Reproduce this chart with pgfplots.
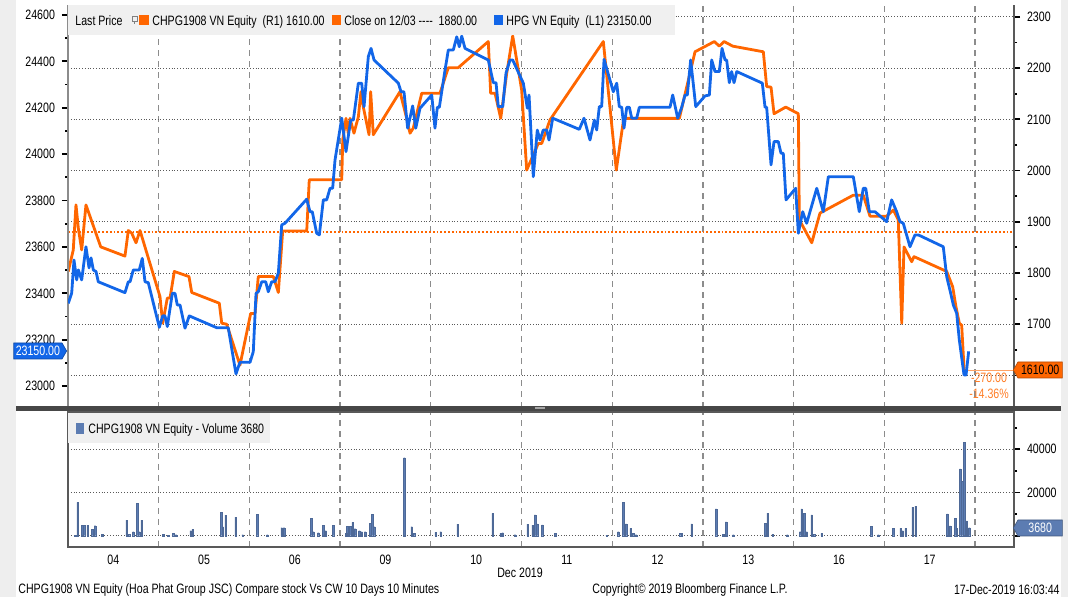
\documentclass[border=0pt]{standalone}
\usepackage{pgfplots}
\pgfplotsset{compat=1.18}
\usepackage{fontspec}
\setmainfont{Liberation Sans}[FakeStretch=0.78]
\usetikzlibrary{shapes.symbols}
\definecolor{orL}{RGB}{255,102,0}
\definecolor{blL}{RGB}{18,102,232}
\definecolor{volC}{RGB}{92,124,178}
\definecolor{legBG}{RGB}{240,240,240}
\definecolor{stripC}{RGB}{238,238,238}
\newcommand{\fs}{\fontsize{6.8}{8}\selectfont}
\begin{document}
\begin{tikzpicture}
\path[use as bounding box] (0,0) rectangle (534pt,298.5pt);
\fill[stripC] (0,0) rectangle (8pt,298.5pt);
\fill[stripC] (530.5pt,0) rectangle (534pt,298.5pt);

% ---------- CHPG1908 (right axis, orange)
\begin{axis}[
 at={(34pt,94.5pt)}, anchor=south west, scale only axis, width=473pt, height=201.5pt,
 xmin=0, xmax=10.43, ymin=1536.4, ymax=2323.4,
 scaled x ticks=false, scaled y ticks=false,
 axis x line*=bottom, axis y line*=right,
 x axis line style={draw=none}, y axis line style={black!65, line width=0.8pt, -},
 xtick={1,...,10}, xticklabels={}, x tick style={draw=none}, xmajorgrids,
 major x grid style={black!45, dash pattern=on 3pt off 2.5pt, line width=0.65pt},
 ytick={1600,1700,...,2300}, yticklabels={,1700,1800,1900,2000,2100,2200,2300},
 minor ytick={1650,1750,...,2250},
 ymajorgrids, major y grid style={black!65, densely dotted, line width=0.5pt},
 tick align=outside, major tick length=3pt, minor tick length=1.5pt,
 y tick style={black, line width=0.9pt},
 yticklabel style={font=\fs},
]
\addplot[orL, line width=0.9pt, densely dotted] coordinates {(0,1880)(10.43,1880)};
\addplot[orL!60, line width=0.6pt] coordinates {(9.909,1610)(10.43,1610)};
\addplot[orL, line width=1.4pt, line join=round] coordinates {
(0.003,1803)(0.058,1845)(0.088,1933)(0.114,1887)(0.151,1845)(0.198,1933)(0.361,1851)(0.628,1833)(0.665,1883)(0.702,1878)(0.750,1859)(0.794,1883)
(1.014,1754)(1.044,1702)(1.095,1751)(1.125,1751)(1.172,1803)(1.334,1793)(1.364,1762)(1.668,1741)(1.695,1702)(1.750,1700)(1.896,1620)
(2.014,1721)(2.062,1721)(2.098,1793)(2.264,1793)(2.319,1762)(2.367,1882)(2.632,1882)(2.660,1982)(3.018,1982)
(3.029,2060)(3.065,2102)(3.090,2073)(3.109,2102)(3.153,2073)(3.201,2105)(3.230,2154)(3.256,2124)(3.319,2070)(3.337,2154)(3.366,2070)(3.660,2154)(3.734,2102)(3.771,2073)(3.807,2083)(3.900,2151)
(4.101,2151)(4.193,2201)(4.303,2201)(4.634,2252)(4.660,2151)(4.708,2151)(4.771,2102)(4.837,2190)(4.903,2263)
(5.002,2157)(5.057,2001)(5.185,2053)(5.223,2053)(5.314,2099)(5.902,2252)
(6.045,2001)(6.127,2102)(6.740,2102)(6.913,2232)(7.126,2252)(7.181,2243)(7.233,2252)(7.329,2243)(7.666,2232)(7.703,2164)(7.751,2163)(7.784,2111)(7.913,2124)
(8.052,2111)(8.063,1904)(8.200,1859)(8.291,1917)(8.658,1952)(8.768,1952)(8.842,1911)(9.026,1911)
(9.099,1923)(9.154,1904)(9.192,1702)(9.217,1851)(9.302,1822)(9.327,1832)(9.688,1803)(9.754,1773)(9.790,1734)(9.827,1702)(9.853,1698)(9.882,1604)(9.909,1610)};
\end{axis}

% ---------- HPG (left axis, blue)
\begin{axis}[
 at={(34pt,94.5pt)}, anchor=south west, scale only axis, width=473pt, height=201.5pt,
 xmin=0, xmax=10.43, ymin=22906, ymax=24643,
 scaled x ticks=false, scaled y ticks=false,
 axis x line=none, axis y line*=left,
 y axis line style={black!45, line width=0.8pt, -},
 ytick={23000,23200,...,24600}, yticklabels={23000,23200,23400,23600,23800,24000,24200,24400,24600},
 minor ytick={23100,23300,...,24500},
 tick align=outside, major tick length=3pt, minor tick length=1.5pt,
 y tick style={black, line width=0.9pt},
 yticklabel style={font=\fs},
]
\addplot[blL, line width=1.4pt, line join=round] coordinates {
(0.003,23357)(0.041,23402)(0.066,23544)(0.096,23458)(0.114,23501)(0.151,23458)(0.198,23601)(0.232,23510)(0.254,23553)(0.279,23501)(0.309,23494)(0.334,23450)(0.628,23403)(0.665,23450)(0.684,23450)(0.720,23501)(0.786,23501)(0.819,23551)(0.849,23450)(0.885,23446)
(1.007,23254)(1.044,23303)(1.069,23303)(1.095,23257)(1.150,23400)(1.180,23400)(1.205,23350)(1.235,23350)(1.290,23250)(1.337,23303)(1.640,23252)(1.767,23252)(1.852,23053)(1.896,23103)
(2.007,23103)(2.043,23149)(2.073,23400)(2.098,23407)(2.136,23450)(2.180,23450)(2.208,23407)(2.246,23450)(2.282,23450)(2.319,23487)(2.356,23695)(2.392,23702)(2.632,23806)(2.668,23752)(2.693,23752)(2.742,23659)(2.771,23652)(2.815,23803)(2.852,23803)(2.889,23853)(2.918,23853)(2.944,23975)
(3.018,24155)(3.065,24011)(3.117,24147)(3.146,24147)(3.201,24306)(3.238,24306)(3.264,24205)(3.311,24420)(3.341,24456)(3.374,24406)(3.642,24306)(3.672,24269)(3.704,24269)(3.745,24112)(3.800,24208)(3.834,24112)(3.881,24198)
(4.010,24255)(4.046,24112)(4.072,24202)(4.094,24202)(4.157,24363)(4.193,24449)(4.248,24449)(4.286,24506)(4.314,24463)(4.341,24509)(4.377,24456)(4.634,24406)(4.689,24308)(4.719,24308)(4.744,24205)(4.793,24205)(4.829,24349)(4.873,24406)(4.903,24406)
(5.020,24306)(5.064,24198)(5.083,24255)(5.130,23903)(5.174,24104)(5.204,24061)(5.240,24104)(5.278,24104)(5.303,24061)(5.344,24155)(5.637,24107)(5.689,24155)(5.755,24061)(5.803,24147)(5.829,24104)(5.858,24205)(5.884,24205)(5.910,24409)
(6.012,24269)(6.050,24306)(6.078,24205)(6.105,24202)(6.130,24112)(6.160,24202)(6.189,24202)(6.215,24155)(6.270,24155)(6.299,24202)(6.637,24202)(6.667,24255)(6.722,24155)(6.766,24202)(6.803,24255)(6.828,24255)(6.865,24406)(6.921,24205)
(7.023,24251)(7.071,24255)(7.097,24406)(7.133,24356)(7.181,24356)(7.211,24456)(7.244,24406)(7.262,24406)(7.291,24308)(7.317,24356)(7.343,24308)(7.373,24356)(7.655,24306)(7.685,24202)(7.703,24202)(7.751,23954)(7.784,24054)(7.831,24054)(7.861,24004)(7.886,24004)(7.916,23803)
(8.023,23853)(8.052,23659)(8.100,23752)(8.144,23702)(8.255,23853)(8.327,23752)(8.383,23903)(8.658,23903)(8.724,23752)(8.768,23853)(8.795,23853)(8.835,23752)(8.897,23752)
(9.026,23709)(9.081,23803)(9.136,23752)(9.173,23709)(9.209,23702)(9.283,23601)(9.338,23652)(9.375,23652)(9.650,23601)(9.688,23472)(9.732,23400)(9.761,23350)(9.798,23314)(9.827,23199)(9.879,23048)(9.901,23048)(9.930,23150)};
\end{axis}

% ---------- Volume panel
\begin{axis}[
 at={(34pt,25pt)}, anchor=south west, scale only axis, width=473pt, height=67.5pt,
 xmin=0, xmax=10.43, ymin=-5231, ymax=57269,
 scaled x ticks=false, scaled y ticks=false,
 axis line style={black!65, line width=0.8pt},
 ytick={0,20000,40000}, yticklabels={,20000,40000}, minor ytick={10000,30000,50000},
 ytick pos=right, yticklabel pos=right,
 tick align=outside, major tick length=3pt, minor tick length=1.5pt,
 y tick style={black, line width=0.9pt},
 xtick={0.5,1.5,...,9.5}, xticklabels={04,05,06,09,10,11,12,13,16,17},
 x tick style={draw=none},
 minor xtick={1,...,10}, xminorgrids,
 minor x grid style={black!45, dash pattern=on 3pt off 2.5pt, line width=0.65pt},
 ymajorgrids, major y grid style={black!65, densely dotted, line width=0.5pt},
 ticklabel style={font=\fs},
 xticklabel style={yshift=2.5pt},
]
\addplot[ybar, bar width=0.8pt, bar shift=0pt, fill=volC, draw=volC!85!black, line width=0.15pt] coordinates {
(0.077,300)(0.107,15430)(0.158,4940)(0.176,4940)(0.217,4940)(0.268,2930)(0.298,4630)(0.379,770)(0.647,7250)(0.673,770)(0.720,1850)(0.761,14970)(0.783,1850)(0.812,7250)
(1.051,770)(1.106,300)(1.161,1080)(1.191,450)(1.352,2310)(1.375,2930)(1.687,10800)(1.705,4170)(1.738,9570)(1.849,8640)(1.926,460)
(2.087,9880)(2.198,460)(2.356,3700)(2.381,3700)(2.679,8020)(2.705,1850)(2.760,1390)(2.815,4940)(2.841,2310)(2.925,4940)
(3.065,1080)(3.080,4470)(3.109,4470)(3.139,6170)(3.164,3240)(3.212,2310)(3.238,1850)(3.275,1850)(3.330,5710)(3.355,9880)(3.377,4170)(3.708,36100)(3.789,4170)(3.818,1080)
(4.054,1540)(4.109,1850)(4.296,5400)(4.682,10340)(4.770,1080)(4.792,1390)(4.928,460)
(5.068,5400)(5.123,4940)(5.149,9600)(5.175,5450)(5.230,4980)(5.369,1090)(5.939,310)
(6.068,1870)(6.123,15560)(6.152,5450)(6.204,3420)(6.233,1090)(6.262,470)(6.748,1090)(6.766,1090)(6.876,5450)
(7.144,12450)(7.225,780)(7.255,6380)(7.336,470)(7.685,5760)(7.714,10430)(7.769,780)(7.931,470)
(8.071,1870)(8.089,12450)(8.118,10430)(8.144,1870)(8.199,9650)(8.225,780)(8.310,1090)(8.853,4200)(8.934,470)
(9.100,3420)(9.180,3420)(9.202,2330)(9.236,3420)(9.313,13230)(9.346,13690)(9.695,10110)(9.724,4510)(9.779,8090)(9.798,3420)(9.835,30960)(9.857,25210)(9.882,43100)(9.908,6850)(9.938,3680)};
\end{axis}

% ---------- annotations in pixel coordinates
\begin{scope}[x=0.5pt, y=-0.5pt, yshift=298.5pt, font=\fs]
% separator
\fill[black!72] (16,406.5) rectangle (1061,411);
\fill[black!35] (535,407.5) rectangle (545,409.5);
% top legend
\fill[legBG] (68,5.5) rectangle (675,35);
\node[anchor=base west, inner sep=0] at (75,26) {Last Price};
\draw[black!50, line width=0.3pt] (132,16) rectangle (137,21) (134.5,21) -- (134.5,24);
\fill[orL] (139,15) rectangle (149,25);
\node[anchor=base west, inner sep=0] at (152,26) {CHPG1908 VN Equity\ \ (R1)\ 1610.00};
\fill[orL] (332,15) rectangle (341,25);
\node[anchor=base west, inner sep=0] at (344,26) {Close on 12/03\ -{}-{}-{}-\ \ 1880.00};
\fill[blL] (494,15) rectangle (503,25);
\node[anchor=base west, inner sep=0] at (506,26) {HPG VN Equity\ \ (L1)\ 23150.00};
% volume legend
\fill[legBG] (68,413) rectangle (270,443);
\fill[volC] (76,423) rectangle (84,434);
\node[anchor=base west, inner sep=0] at (88,434) {CHPG1908 VN Equity - Volume 3680};
% value tags
\node[signal, signal to=east, signal pointer angle=120, fill=blL, draw=blL!70!black, line width=0.3pt, text=white, inner sep=1pt, minimum height=8pt, minimum width=24pt, anchor=east] at (67,351) {23150.00};
\node[signal, signal to=west, signal pointer angle=120, fill=orL, draw=orL!70!black, line width=0.3pt, text=black, inner sep=1pt, minimum height=8pt, minimum width=24.5pt, anchor=west] at (1013,370) {1610.00};
\node[signal, signal to=west, signal pointer angle=120, fill=volC, draw=volC!70!black, line width=0.3pt, text=white, inner sep=1pt, minimum height=8pt, minimum width=24.5pt, anchor=west] at (1013,528) {3680};
\node[text=orL!85, inner sep=0] at (989,378) {-270.00};
\node[text=orL!85, inner sep=0] at (989,394) {-14.36\%};
% axis title and footer
\node[inner sep=0] at (520,573) {Dec 2019};
\node[anchor=west, inner sep=0] at (18,590) {CHPG1908 VN Equity (Hoa Phat Group JSC) Compare stock Vs CW 10 Days 10 Minutes};
\node[anchor=west, inner sep=0] at (592,590) {Copyright© 2019 Bloomberg Finance L.P.};
\node[anchor=east, inner sep=0] at (1060,590) {17-Dec-2019 16:03:44};
\end{scope}
\end{tikzpicture}
\end{document}
